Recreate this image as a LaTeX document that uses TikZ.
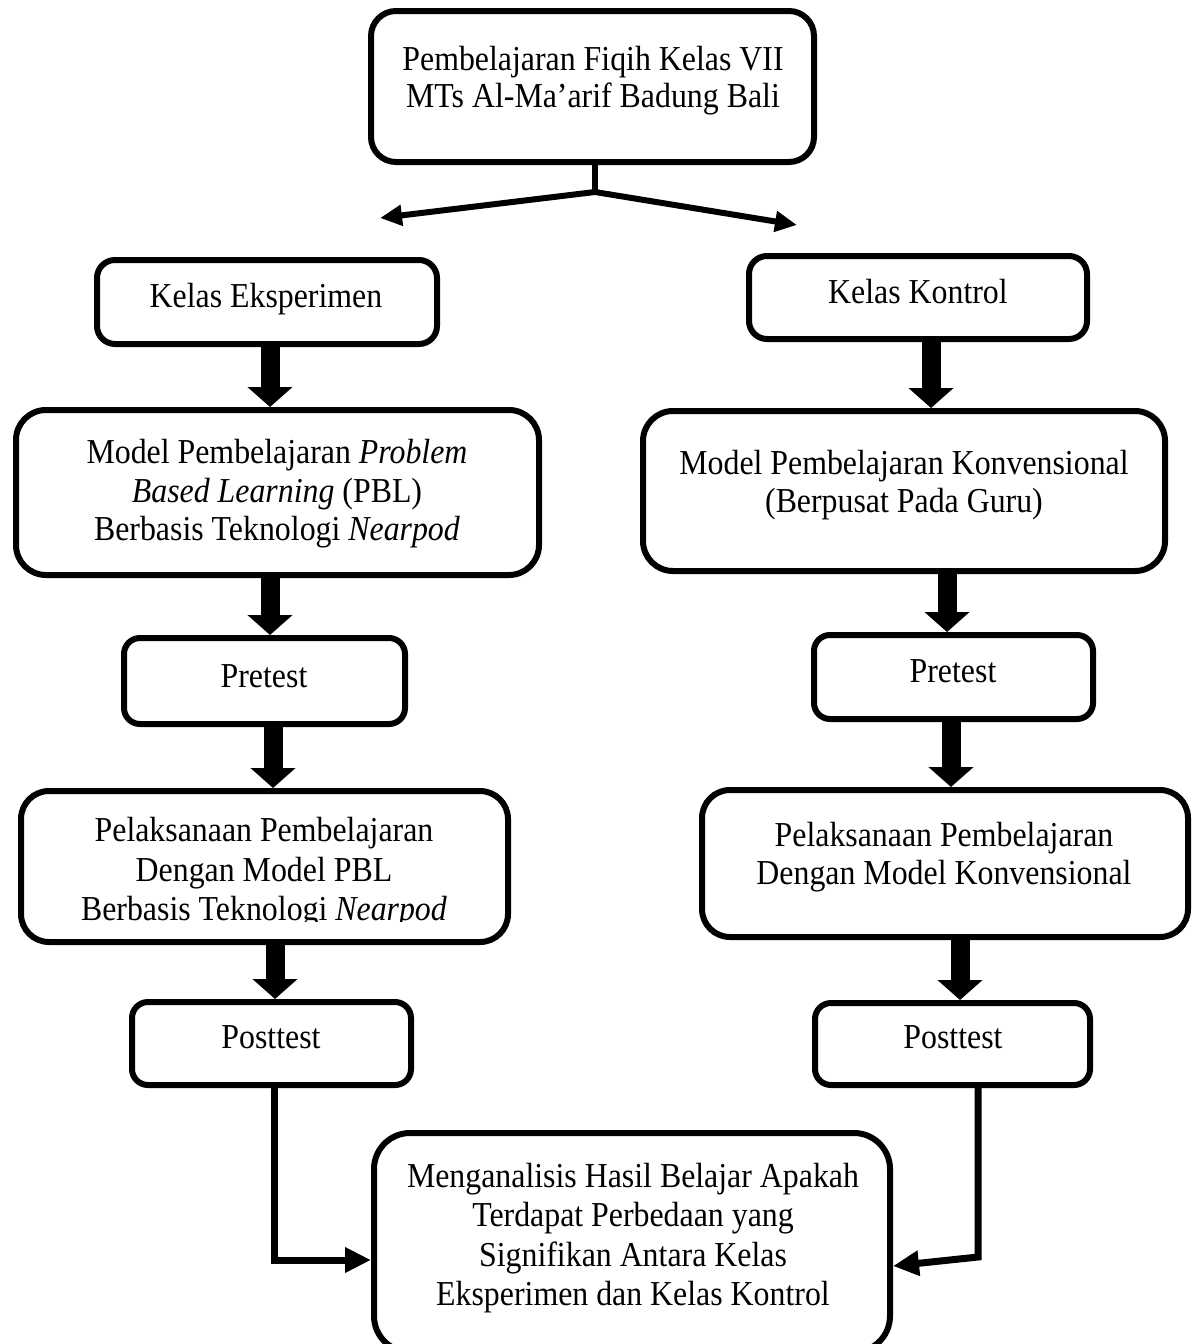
\documentclass[tikz,border=0pt]{standalone}
\usepackage{fontspec}
\setmainfont{Liberation Serif}[FakeStretch=0.91]
\usetikzlibrary{arrows.meta}
\begin{document}
\begin{tikzpicture}[x=1pt,y=-1pt,
  box/.style={draw, line width=6pt, inner sep=0pt, fill=white},
  txt/.style={inner sep=0pt, align=center, font=\fontsize{35}{39.5}\selectfont},
  bigarr/.style={line width=19pt, -{Triangle[width=44pt,length=20pt]}},
  linkarr/.style={line width=7pt, -{Triangle[width=24pt,length=26pt]}},
]
\useasboundingbox (0,0) rectangle (1194,1344);
\clip (0,0) rectangle (1194,1344);
\fill[white] (0,0) rectangle (1194,1344);

% boxes
\node[box, rounded corners=25pt, minimum width=443pt, minimum height=151pt] (top) at (592.5,86.5) {};
\node[box, rounded corners=18pt, minimum width=340pt, minimum height=84pt] (ke) at (267,302) {};
\node[box, rounded corners=18pt, minimum width=338pt, minimum height=83pt] (kk) at (918,297.5) {};
\node[box, rounded corners=30pt, minimum width=523pt, minimum height=165pt] (mp) at (277.5,492.5) {};
\node[box, rounded corners=30pt, minimum width=522pt, minimum height=160pt] (mk) at (904,491) {};
\node[box, rounded corners=16pt, minimum width=281pt, minimum height=86pt] (prl) at (264.5,681) {};
\node[box, rounded corners=16pt, minimum width=279pt, minimum height=84pt] (prr) at (953.5,677) {};
\node[box, rounded corners=28pt, minimum width=487pt, minimum height=151pt] (pll) at (264.5,866.5) {};
\node[box, rounded corners=28pt, minimum width=486pt, minimum height=147pt] (plr) at (945,863.5) {};
\node[box, rounded corners=16pt, minimum width=279pt, minimum height=83pt] (pol) at (271.5,1043.5) {};
\node[box, rounded corners=16pt, minimum width=275pt, minimum height=82pt] (por) at (952.5,1044) {};
\node[box, rounded corners=36pt, minimum width=516pt, minimum height=219pt] (res) at (632,1242.5) {};

% texts
\node[txt, font=\fontsize{35}{37}\selectfont] (ttop) at (593,81) {Pembelajaran Fiqih Kelas VII\\MTs Al-Ma’arif Badung Bali};
\node[txt] (tke) at (266,299.5) {Kelas Eksperimen};
\node[txt] (tkk) at (918,292) {Kelas Kontrol};
\node[txt, font=\fontsize{35}{38.5}\selectfont] (tmp) at (277,494) {Model Pembelajaran \textit{Problem}\\\textit{Based Learning} (PBL)\\Berbasis Teknologi \textit{Nearpod}};
\node[txt, font=\fontsize{35}{38.5}\selectfont] (tmk) at (904,485) {Model Pembelajaran Konvensional\\(Berpusat Pada Guru)};
\node[txt] (tprl) at (264,676) {Pretest};
\node[txt] (tprr) at (953,671) {Pretest};
\begin{scope}
\clip (0,0) rectangle (1194,921);
\node[txt] (tpll) at (264,873) {Pelaksanaan Pembelajaran\\Dengan Model PBL\\Berbasis Teknologi \textit{Nearpod}};
\end{scope}
\node[txt, font=\fontsize{35}{38.5}\selectfont] (tplr) at (944,857) {Pelaksanaan Pembelajaran\\Dengan Model Konvensional};
\node[txt] (tpol) at (271,1037) {Posttest};
\node[txt] (tpor) at (953,1037) {Posttest};
\node[txt] (tres) at (633,1238) {Menganalisis Hasil Belajar Apakah\\Terdapat Perbedaan yang\\Signifikan Antara Kelas\\Eksperimen dan Kelas Kontrol};

% top split
\coordinate (j) at (595,192);
\coordinate (la) at (380,218);
\coordinate (ra) at (797,225);
\draw[line width=6pt] (top.south -| j) -- (j);
\draw[line width=6pt, {Triangle[width=20pt,length=22pt]}-{Triangle[width=20pt,length=22pt]}] (la) -- (j) -- (ra);

% big arrows
\draw[bigarr] (ke.south -| 270,0) -- (mp.north -| 270,0);
\draw[bigarr] (mp.south -| 270,0) -- (prl.north -| 270,0);
\draw[bigarr] (prl.south -| 273,0) -- (pll.north -| 273,0);
\draw[bigarr] (pll.south -| 275,0) -- (pol.north -| 275,0);
\draw[bigarr] (kk.south -| 931,0) -- (mk.north -| 931,0);
\draw[bigarr] (mk.south -| 947,0) -- (prr.north -| 947,0);
\draw[bigarr] (prr.south -| 951,0) -- (plr.north -| 951,0);
\draw[bigarr] (plr.south -| 960,0) -- (por.north -| 960,0);

% links to result
\draw[linkarr] (pol.south -| 274,0) |- (res.west |- 0,1260);
\coordinate (rc) at (978,1257);
\draw[linkarr] (por.south -| rc) -- (rc) -- (res.east |- 0,1266);
\end{tikzpicture}
\end{document}
